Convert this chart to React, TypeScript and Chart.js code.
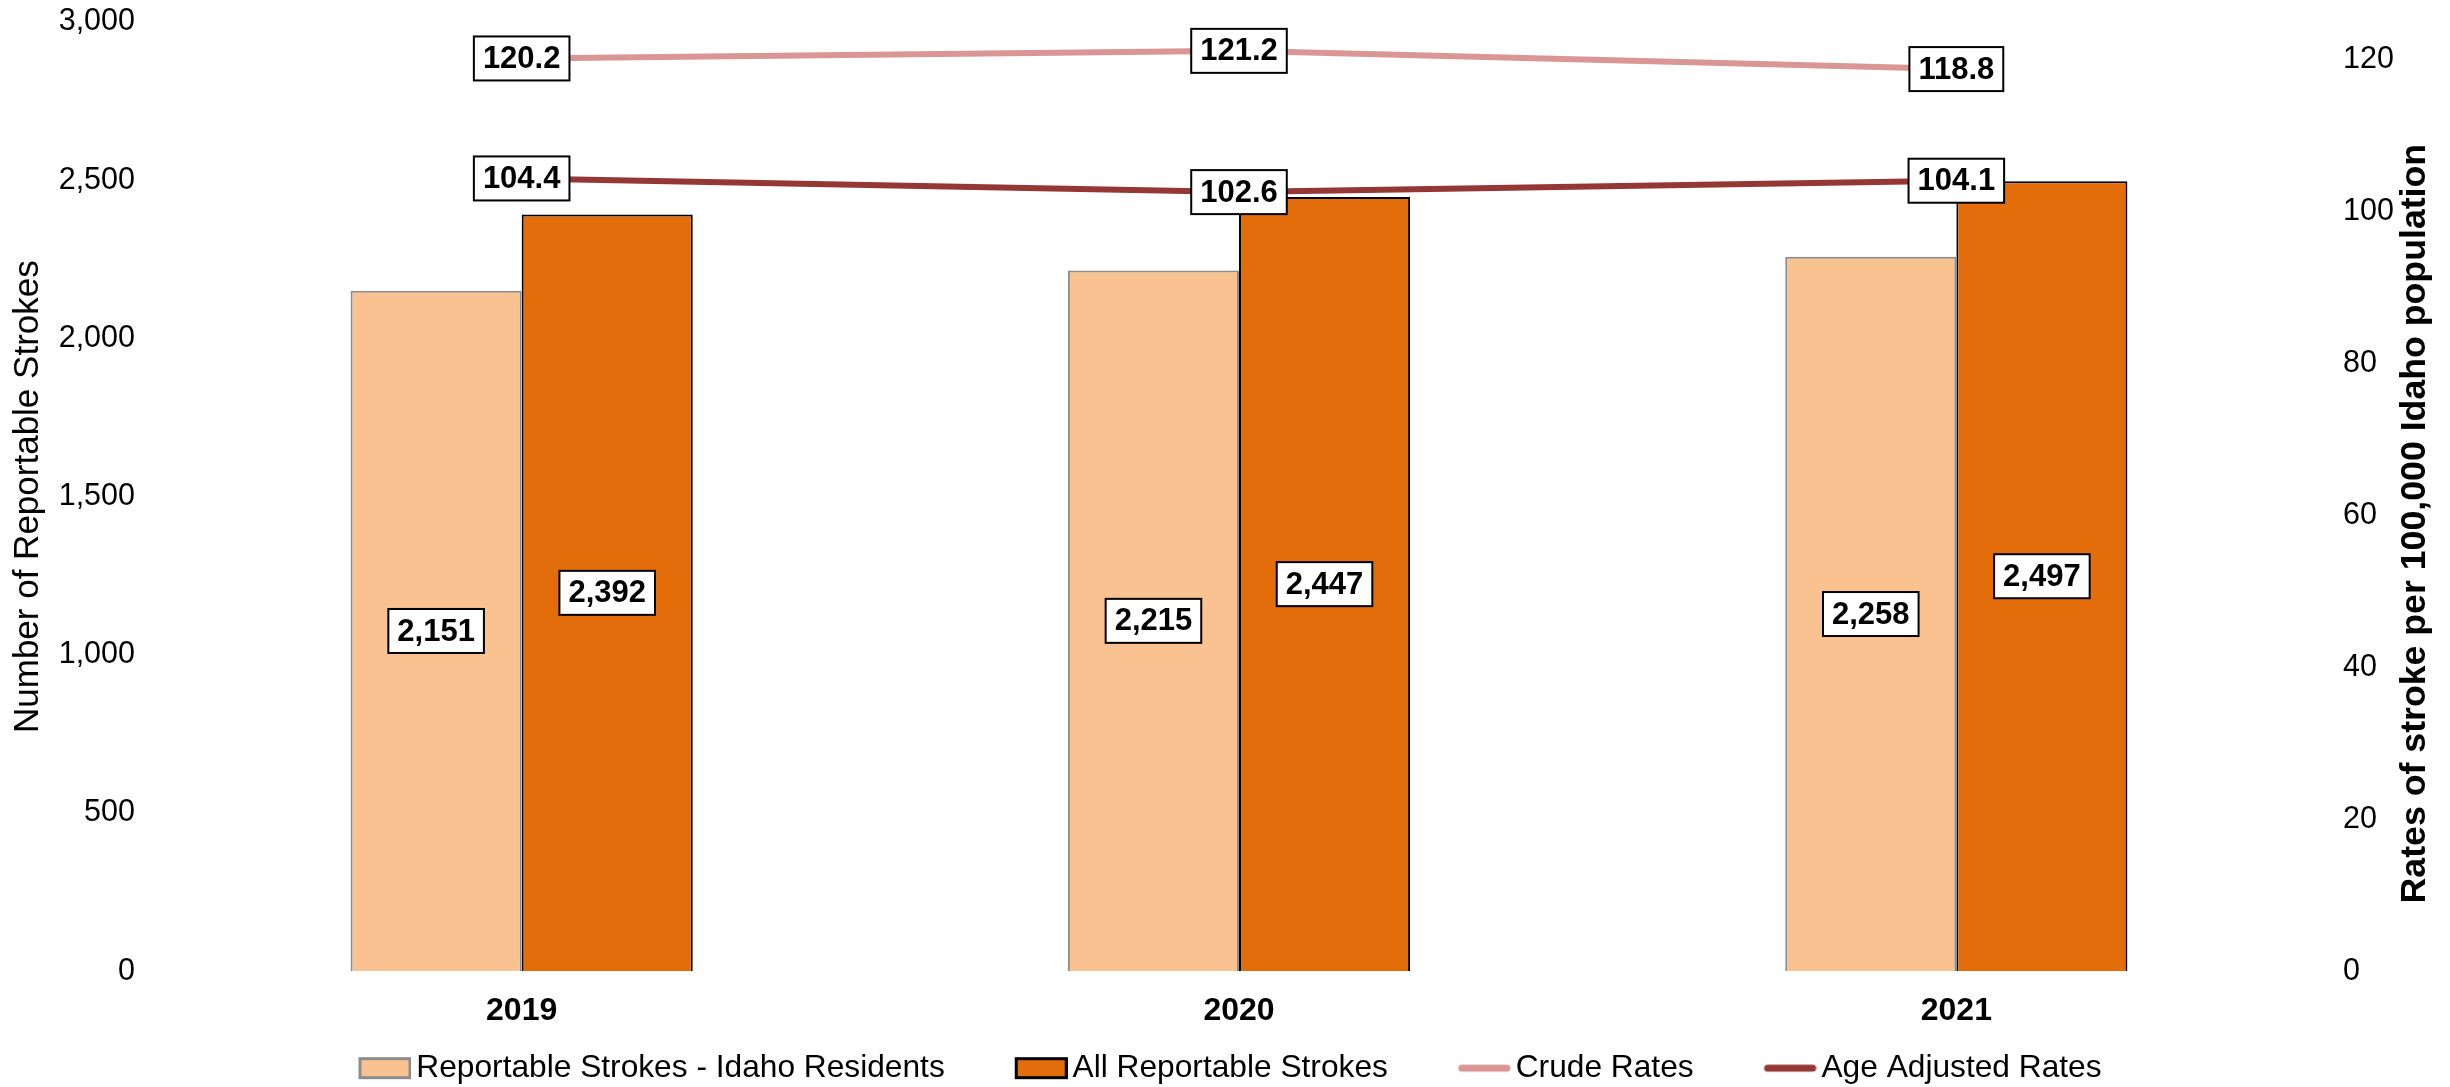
import React, { useEffect, useRef } from "react";
import { Chart, registerables } from "chart.js";

Chart.register(...registerables);

const years = ["2019", "2020", "2021"];
const idahoResidents = [2151, 2215, 2258];
const allReportable = [2392, 2447, 2497];
const crudeRates = [120.2, 121.2, 118.8];
const ageAdjustedRates = [104.4, 102.6, 104.1];

const seriesNames = [
  "Reportable Strokes - Idaho Residents",
  "All Reportable Strokes",
  "Crude Rates",
  "Age Adjusted Rates",
];

const leftTitle = "Number of Reportable Strokes";
const rightTitle = "Rates of stroke per 100,000 Idaho population";

const FONT = '"Liberation Sans", Arial, sans-serif';

const boxLabels = {
  id: "boxLabels",
  afterDatasetsDraw(chart: any) {
    const ctx = chart.ctx;
    ctx.save();
    chart.data.datasets.forEach((ds: any, i: number) => {
      const meta = chart.getDatasetMeta(i);
      meta.data.forEach((el: any, j: number) => {
        const v = ds.data[j];
        const x = el.x;
        let y: number;
        let text: string;
        if (meta.type === "bar") {
          y = (el.y + el.base) / 2;
          text = v.toLocaleString("en-US");
        } else {
          y = el.y;
          text = v.toFixed(1);
        }
        ctx.font = `bold 31px ${FONT}`;
        const w = ctx.measureText(text).width + 18;
        const h = 44;
        ctx.fillStyle = "#ffffff";
        ctx.fillRect(x - w / 2, y - h / 2, w, h);
        ctx.lineWidth = 2;
        ctx.strokeStyle = "#000000";
        ctx.strokeRect(x - w / 2, y - h / 2, w, h);
        ctx.fillStyle = "#000000";
        ctx.textAlign = "center";
        ctx.textBaseline = "middle";
        ctx.fillText(text, x, y + 1);
      });
    });
    ctx.restore();
  },
};

const rightTitlePlugin = {
  id: "rightTitle",
  afterDraw(chart: any) {
    const ctx = chart.ctx;
    const area = chart.chartArea;
    ctx.save();
    ctx.translate(chart.width - 35, (area.top + area.bottom) / 2 + 27);
    ctx.rotate(-Math.PI / 2);
    ctx.font = `bold 35.7px ${FONT}`;
    ctx.fillStyle = "#000000";
    ctx.textAlign = "center";
    ctx.textBaseline = "middle";
    ctx.fillText(rightTitle, 0, 0);
    ctx.restore();
  },
};

// Legend marker images (104px wide, centred on the 82px key slot):
// the visible 53px key sits at the right end, just before the text.
function makeMarker(kind: "box" | "line", fill: string, stroke: string): HTMLCanvasElement {
  const c = document.createElement("canvas");
  c.width = 104;
  c.height = 26;
  const g = c.getContext("2d")!;
  if (kind === "box") {
    g.fillStyle = fill;
    g.fillRect(52.5, 3.5, 50, 19);
    g.lineWidth = 3;
    g.strokeStyle = stroke;
    g.strokeRect(52.5, 3.5, 50, 19);
  } else {
    g.lineWidth = 7;
    g.lineCap = "round";
    g.strokeStyle = stroke;
    g.beginPath();
    g.moveTo(55, 13);
    g.lineTo(100, 13);
    g.stroke();
  }
  return c;
}

export default function App() {
  const ref = useRef<HTMLCanvasElement | null>(null);

  useEffect(() => {
    if (!ref.current) return;
    const colors = {
      light: "#FAC191",
      lightBorder: "#8C8C8C",
      dark: "#E36C0B",
      darkBorder: "#000000",
      crude: "#D99694",
      adjusted: "#953735",
    };
    const markers = [
      makeMarker("box", colors.light, colors.lightBorder),
      makeMarker("box", colors.dark, colors.darkBorder),
      makeMarker("line", colors.crude, colors.crude),
      makeMarker("line", colors.adjusted, colors.adjusted),
    ];
    const chart = new Chart(ref.current, {
      type: "bar",
      data: {
        labels: years,
        datasets: [
          {
            type: "bar",
            label: seriesNames[0],
            data: idahoResidents,
            backgroundColor: colors.light,
            borderColor: colors.lightBorder,
            borderWidth: 2,
            yAxisID: "y",
            order: 2,
          },
          {
            type: "bar",
            label: seriesNames[1],
            data: allReportable,
            backgroundColor: colors.dark,
            borderColor: colors.darkBorder,
            borderWidth: 2,
            yAxisID: "y",
            order: 2,
          },
          {
            type: "line",
            label: seriesNames[2],
            data: crudeRates,
            borderColor: colors.crude,
            backgroundColor: colors.crude,
            borderWidth: 6,
            pointRadius: 0,
            tension: 0,
            yAxisID: "y2",
            order: 1,
          },
          {
            type: "line",
            label: seriesNames[3],
            data: ageAdjustedRates,
            borderColor: colors.adjusted,
            backgroundColor: colors.adjusted,
            borderWidth: 6,
            pointRadius: 0,
            tension: 0,
            yAxisID: "y2",
            order: 1,
          },
        ] as any,
      },
      options: {
        responsive: false,
        animation: false,
        layout: { padding: { top: 22, bottom: -7, left: 0, right: 30 } },
        datasets: {
          bar: { barPercentage: 1, categoryPercentage: 0.477 },
        },
        scales: {
          x: {
            grid: { display: false, drawTicks: false },
            border: { display: false },
            ticks: {
              color: "#000000",
              font: { family: FONT, size: 32, weight: "bold" },
              padding: 21,
            },
            afterFit: (s: any) => {
              s.height = 51;
            },
          },
          y: {
            position: "left",
            min: 0,
            max: 3000,
            grid: { display: false, drawTicks: true, tickLength: 28 },
            border: { display: false },
            ticks: {
              stepSize: 500,
              color: "#000000",
              font: { family: FONT, size: 30.5 },
              padding: 0,
              callback: (v: any) => Number(v).toLocaleString("en-US"),
            },
            title: {
              display: true,
              text: leftTitle,
              color: "#000000",
              font: { family: FONT, size: 35 },
              padding: { top: 7, bottom: 0 },
            },
            afterFit: (s: any) => {
              s.width = 163;
            },
          },
          y2: {
            position: "right",
            min: 0,
            max: 125,
            grid: { display: false, drawTicks: true, tickLength: 28 },
            border: { display: false },
            ticks: {
              stepSize: 20,
              color: "#000000",
              font: { family: FONT, size: 30.5 },
              padding: 0,
            },
            afterBuildTicks: (s: any) => {
              s.ticks = s.ticks.filter((t: any) => t.value % 20 === 0);
            },
            afterFit: (s: any) => {
              s.width = 105;
            },
          },
        },
        plugins: {
          tooltip: { enabled: false },
          legend: {
            position: "bottom",
            labels: {
              color: "#000000",
              font: { family: FONT, size: 31.7 },
              padding: 30,
              usePointStyle: true,
              pointStyleWidth: 82,
              boxHeight: 20,
              sort: (a: any, b: any) => a.datasetIndex - b.datasetIndex,
              generateLabels: (chart: any) => {
                return chart.data.datasets.map((ds: any, i: number) => ({
                  text: ds.label,
                  datasetIndex: i,
                  fillStyle: ds.backgroundColor,
                  strokeStyle: ds.borderColor,
                  lineWidth: 2,
                  pointStyle: markers[i],
                  hidden: false,
                  fontColor: "#000000",
                }));
              },
            },
          },
        },
      },
      plugins: [boxLabels, rightTitlePlugin],
    });
    return () => chart.destroy();
  }, []);

  return (
    <div style={{ position: "fixed", left: 0, top: 0, width: 2450, height: 1087, background: "#ffffff" }}>
      <canvas ref={ref} width={2450} height={1087} style={{ display: "block" }} />
    </div>
  );
}
